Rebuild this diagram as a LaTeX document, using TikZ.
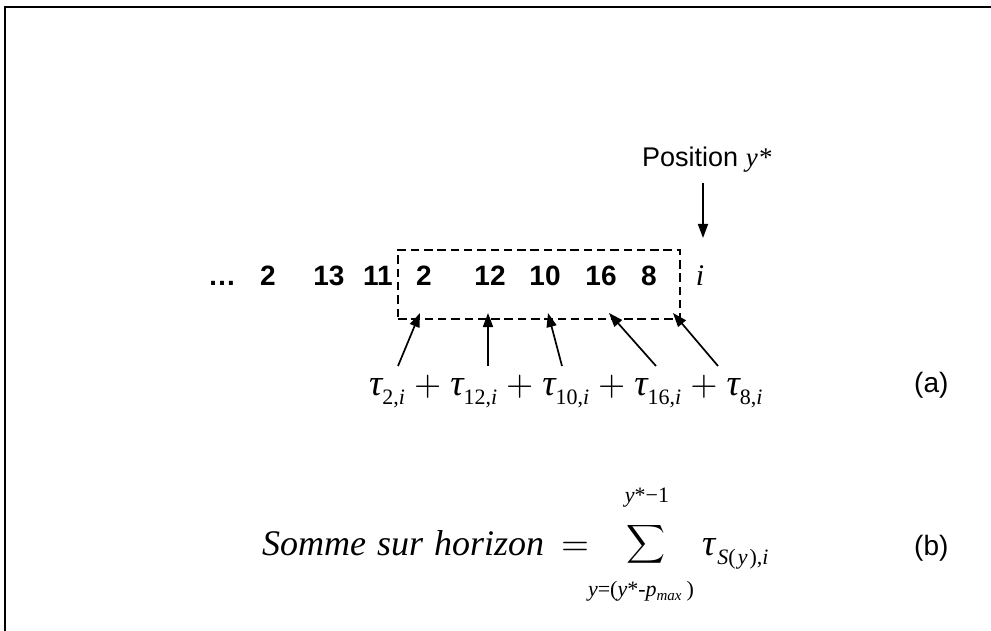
\documentclass[tikz,border=0pt]{standalone}
\usepackage{fontspec}
\setmainfont{Liberation Serif}
\newfontfamily\arial{Liberation Sans}
\usetikzlibrary{arrows.meta}
\newcommand{\tauterm}[1]{{\itshape τ}\raisebox{-9pt}{\fontsize{22}{24}\selectfont #1}}
\newcommand{\plusop}{\hspace{9pt}\scalebox{3.5}{\fontsize{10}{12}\selectfont$+$}\hspace{9pt}}
\begin{document}
\begin{tikzpicture}[x=1pt,y=-1pt,
  frame/.style={line width=1.8pt},
  num/.style={font=\arial\bfseries\fontsize{28}{32}\selectfont, anchor=base, inner sep=0pt},
  lbl/.style={font=\arial\fontsize{27}{32}\selectfont, anchor=base west, inner sep=0pt},
  term/.style={font=\rmfamily\fontsize{37}{40}\selectfont, anchor=base west, inner sep=0pt},
  op/.style={anchor=base, inner sep=0pt},
  lim/.style={font=\rmfamily\fontsize{22}{24}\selectfont, anchor=center, inner sep=0pt},
  dbox/.style={draw, line width=1.9pt, dash pattern=on 8.5pt off 4.8pt, minimum width=282pt, minimum height=69pt, inner sep=0pt},
  arr/.style={line width=1.7pt, -{Triangle[length=14pt,width=10pt]}}]
\useasboundingbox (0,0) rectangle (991,631);
\draw[frame] (5,631) -- (5,7) -- (991,7);
% position label
\node[lbl] (pos) at (642,167) {Position {\rmfamily\itshape y*}};
\coordinate (ptop) at (703,183);
\coordinate (pbot) at (703,238);
\draw[arr] (ptop) -- (pbot);
% sequence
\node[dbox] (box) at (539,284.5) {};
\node[num] (d0) at (222,285) {…};
\node[num] (d1) at (268,285) {2};
\node[num] (d2) at (329,285) {13};
\node[num] (d3) at (378,285) {11};
\node[num] (d4) at (424,285) {2};
\node[num] (d5) at (490,285) {12};
\node[num] (d6) at (545,285) {10};
\node[num] (d7) at (601,285) {16};
\node[num] (d8) at (649,285) {8};
\node[font=\rmfamily\itshape\fontsize{30}{34}\selectfont, anchor=base, inner sep=0pt] (di) at (700,285) {i};
% formula (a)
\node[term] (fa) at (369,395) {\tauterm{2,\textit{i}}\plusop\tauterm{12,\textit{i}}\plusop\tauterm{10,\textit{i}}\plusop\tauterm{16,\textit{i}}\plusop\tauterm{8,\textit{i}}};
\node[lbl, font=\arial\fontsize{28}{32}\selectfont] (la) at (914,392) {(a)};
\coordinate (t1) at (398,366); \coordinate (h1) at (420,313);
\coordinate (t2) at (488,366); \coordinate (h2) at (488,313);
\coordinate (t3) at (562,366); \coordinate (h3) at (548,313);
\coordinate (t4) at (656,366); \coordinate (h4) at (609,313);
\coordinate (t5) at (718,366); \coordinate (h5) at (673,313);
\foreach \k in {1,...,5} \draw[arr] (t\k) -- (h\k);
% formula (b)
\node[term, font=\rmfamily\itshape\fontsize{36}{40}\selectfont] (som) at (262,555) {Somme\hspace{11pt}sur\hspace{11pt}horizon};
\node[op] (eq) at (575,555) {\scalebox{3.6}{$=$}};
\node[anchor=center, inner sep=0pt] (sig) at (646,544) {\scalebox{2.7}{$\displaystyle\sum$}};
\node[lim] (up) at (647,498) {\itshape y\upshape *−1};
\node[lim] (lo) at (641,591) {\itshape y\upshape =(\itshape y\upshape *-\itshape p\raisebox{-4pt}{\fontsize{15}{16}\selectfont max}\hspace{5pt}\upshape )};
\node[term] (ts) at (702,555) {{\itshape τ}\hspace{2pt}\raisebox{-9pt}{\fontsize{22}{26}\selectfont\itshape S\upshape (\hspace{2pt}\itshape y\hspace{2pt}\upshape ),\itshape i}};
\node[lbl, font=\arial\fontsize{28}{32}\selectfont] (lb) at (914,555) {(b)};
\end{tikzpicture}
\end{document}
